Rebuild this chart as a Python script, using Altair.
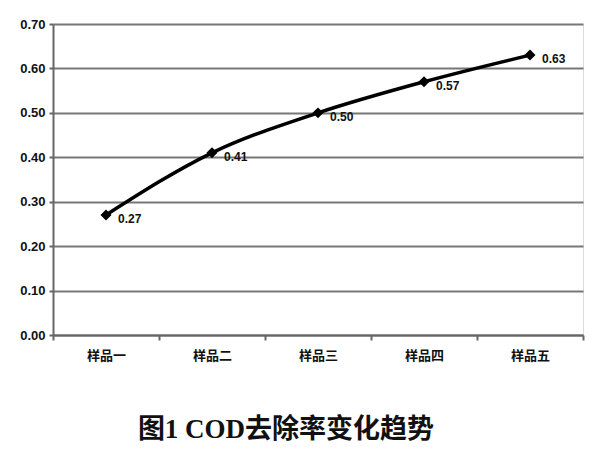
import altair as alt
import pandas as pd

categories = ["样品一", "样品二", "样品三", "样品四", "样品五"]
values = [0.27, 0.41, 0.50, 0.57, 0.63]
labels = ["0.27", "0.41", "0.50", "0.57", "0.63"]
y_ticks = [0.0, 0.1, 0.2, 0.3, 0.4, 0.5, 0.6, 0.7]
title_text = "图1 COD去除率变化趋势"

df = pd.DataFrame({"cat": categories, "val": values, "lab": labels})

x = alt.X("cat:N", sort=categories, title=None,
          scale=alt.Scale(paddingInner=0, paddingOuter=0),
          axis=alt.Axis(labelAngle=0, labelFont="Noto Sans CJK SC", labelFontWeight="bold",
                        labelFontSize=13, labelColor="#111", labelPadding=9,
                        domainColor="#666", domainWidth=2, tickColor="#666", tickWidth=2,
                        tickSize=5, tickBand="extent", grid=False))
y = alt.Y("val:Q", title=None,
          scale=alt.Scale(domain=[0, 0.7], nice=False, zero=True),
          axis=alt.Axis(values=y_ticks, format=".2f", labelFont="Liberation Sans",
                        labelFontWeight="bold", labelFontSize=13, labelColor="#111",
                        labelPadding=4,
                        domainColor="#666", domainWidth=2, tickColor="#666", tickWidth=2,
                        tickSize=4, grid=True, gridColor="#777", gridWidth=2))

base = alt.Chart(df).encode(x=x, y=y)

line = base.mark_line(color="black", strokeWidth=3.5, interpolate="monotone")
pts = base.mark_point(shape="diamond", filled=True, color="black", size=120, opacity=1)
txt = base.mark_text(align="left", baseline="middle", dx=12, dy=4,
                     font="Liberation Sans", fontWeight="bold", fontSize=12,
                     color="#111").encode(text="lab:N")

chart = (line + pts + txt).properties(
    width=530, height=311,
    title=alt.TitleParams(title_text, orient="bottom", anchor="middle",
                          font="Liberation Serif, Noto Sans CJK SC", fontSize=27,
                          fontWeight="bold", color="#111", offset=55, dx=-32),
    autosize=alt.AutoSizeParams(type="none"),
    padding={"left": 45, "top": 16, "right": 9, "bottom": 115},
).configure_view(stroke=None).configure(background="white")

chart.save("out.html", embed_options={"renderer": "svg", "actions": False})
